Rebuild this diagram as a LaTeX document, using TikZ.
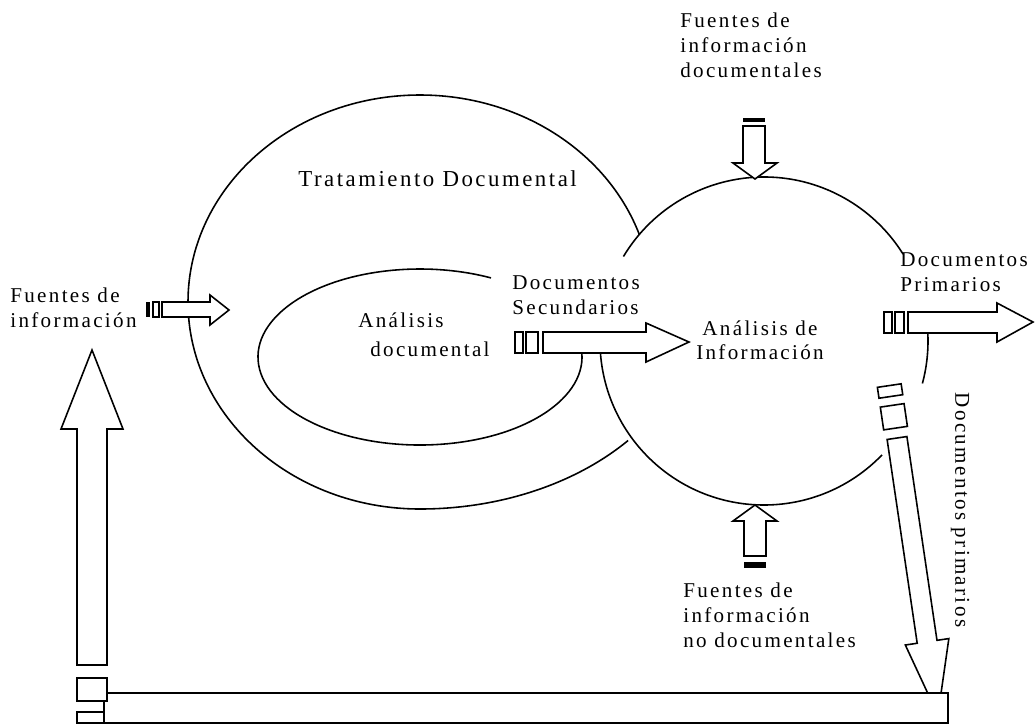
\documentclass[tikz,border=0pt]{standalone}
\usepackage{fontspec}
\setmainfont{Liberation Serif}[LetterSpace=11]
\tikzset{%
    txt/.style={inner sep=0pt, font=\fontsize{12}{14.2}\selectfont, align=left},
    shp/.style={line width=0.9pt, fill=white},
    ln/.style={line width=0.9pt}
}

\begin{document}
\begin{tikzpicture}[x=0.02cm, y=-0.02cm]
    \useasboundingbox (0,0) rectangle (1035,725);

    % big loop (tratamiento documental)
    \draw[ln] (420,302) ++(42:280 and 207) arc[start angle=42, end angle=90, x radius=280, y radius=207]
        arc[start angle=90, end angle=341, x radius=232, y radius=207];

    % inner loop (analisis documental)
    \draw[ln] (420,357) ++(-8:162 and 88) arc[start angle=-8, end angle=296, x radius=162, y radius=88];

    % right circle (analisis de informacion)
    \draw[ln] (764,341) ++(211:164) arc[start angle=211, end angle=328, radius=164];
    \draw[ln] (764,341) ++(-5:164) arc[start angle=-5, end angle=15, radius=164];
    \draw[ln] (764,341) ++(44:164) arc[start angle=44, end angle=180, radius=164];

    % arrow into the big loop
    \fill (146,302) rectangle (150,317);
    \draw[shp] (153,302) rectangle (159,317);
    \draw[shp] (162,302) -- (210,302) -- (210,295) -- (229,310) -- (210,325) -- (210,317) -- (162,317) -- cycle;

    % arrow documentos secundarios
    \draw[shp] (515,332) rectangle (523,353);
    \draw[shp] (526,332) rectangle (538,353);
    \draw[shp] (543,332) -- (646,332) -- (646,323) -- (689,342) -- (646,362) -- (646,353) -- (543,353) -- cycle;

    % arrow documentos primarios
    \draw[shp] (884,312) rectangle (892,333);
    \draw[shp] (895,312) rectangle (904,333);
    \draw[shp] (908,312) -- (997,312) -- (997,303) -- (1033,322) -- (997,342) -- (997,333) -- (908,333) -- cycle;

    % arrow from the top
    \fill (743,118) rectangle (765,122);
    \draw[shp] (743,126) -- (743,163) -- (733,163) -- (755,179) -- (777,163) -- (765,163) -- (765,126) -- cycle;

    % arrow from the bottom
    \draw[shp] (744,556) -- (744,521) -- (733,521) -- (755,505) -- (777,521) -- (766,521) -- (766,556) -- cycle;
    \fill (744,562) rectangle (766,568);

    % slanted arrow down to the bar
    \begin{scope}[shift={(897,438)}, rotate=-81.6]
        \draw[shp] (-53,-12) rectangle (-42,12);
        \draw[shp] (-33,-12) rectangle (-10,12);
        \draw[shp] (0,-10) -- (206,-10) -- (206,-22) -- (280,0) -- (206,22) -- (206,10) -- (0,10) -- cycle;
    \end{scope}

    % bar at the bottom
    \draw[shp] (104,693) rectangle (948,723);

    % big arrow up on the left
    \draw[shp] (77,665) -- (77,429) -- (61,429) -- (92,350) -- (123,429) -- (107,429) -- (107,665) -- cycle;
    \draw[shp] (77,678) rectangle (107,701);
    \draw[shp] (77,712) rectangle (104,723);

    % labels
    \node[txt, anchor=north west] (fuentesdoc) at (680,13) {Fuentes de\\información\\documentales};
    \node[txt, anchor=north west] (fuentesnodoc) at (683,583) {Fuentes de\\información\\no documentales};
    \node[txt, anchor=north west] (fuentesinf) at (10,288) {Fuentes de\\información};
    \node[txt, anchor=north west, font=\fontsize{13}{15}\selectfont] (tratamiento) at (298,170) {Tratamiento Documental};
    \node[txt, anchor=north west] (analisis) at (358,312) {Análisis};
    \node[txt, anchor=north west] (documental) at (370,342) {documental};
    \node[txt, anchor=north west] (docsec) at (512,275) {Documentos\\Secundarios};
    \node[txt, anchor=north, align=center] (analisisinf) at (760,320) {Análisis de\\Información};
    \node[txt, anchor=north west] (docprim) at (900,252) {Documentos\\Primarios};
    \node[txt, rotate=-90] (docprimv) at (960,510) {Documentos primarios};
\end{tikzpicture}
\end{document}
